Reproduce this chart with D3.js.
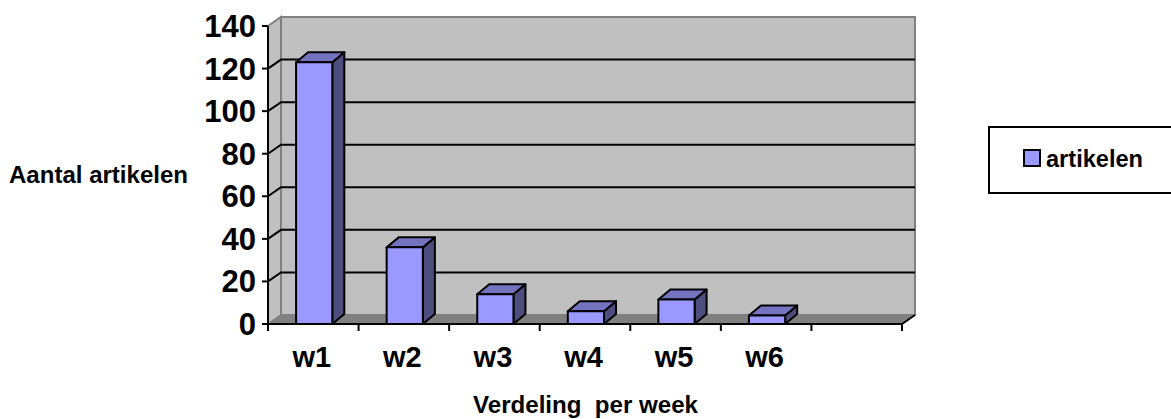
<!DOCTYPE html>
<html>
<head>
    <meta charset="utf-8">
    <script src="https://d3js.org/d3.v7.min.js"></script>
    <style>
        html, body { margin: 0; background: white; }
        svg { display: block; }
        text { font-family: "Liberation Sans", Arial, sans-serif; font-weight: bold; fill: black; }
    </style>
</head>
<body>
    <script>
        const weeks = ['w1', 'w2', 'w3', 'w4', 'w5', 'w6', ''];
        const artikelen = [123, 36, 14, 6, 11.5, 4, null];
        const yTicks = [0, 20, 40, 60, 80, 100, 120, 140];
        const seriesName = 'artikelen';
        const yTitle = 'Aantal artikelen';
        const xTitle = 'Verdeling  per week';

        const width = 1171, height = 419;
        const wallDx = 13, wallDy = -9;   // depth of the walls
        const barDx = 12, barDy = -10;    // depth of a bar

        const svg = d3.select('body').append('svg')
            .attr('width', width)
            .attr('height', height);

        const x = d3.scaleBand().domain(d3.range(weeks.length)).range([268, 902]);
        const y = d3.scaleLinear().domain([0, 140]).range([324, 26]);
        const barW = x.bandwidth() * 0.4;
        const barOff = x.bandwidth() * 0.31;

        const poly = pts => 'M' + pts.map(p => p.join(',')).join('L') + 'Z';
        const x0 = x.range()[0], x1 = x.range()[1];
        const y0 = y(0), yTop = y(140);

        // walls and floor
        svg.append('path')
            .attr('d', poly([[x0 + wallDx, yTop + wallDy], [x1 + wallDx, yTop + wallDy], [x1 + wallDx, y0 + wallDy], [x0 + wallDx, y0 + wallDy]]))
            .attr('fill', '#c0c0c0').attr('stroke', '#808080').attr('stroke-width', 2);
        svg.append('path')
            .attr('d', poly([[x0, yTop], [x0 + wallDx, yTop + wallDy], [x0 + wallDx, y0 + wallDy], [x0, y0]]))
            .attr('fill', '#c0c0c0').attr('stroke', '#808080').attr('stroke-width', 2);
        svg.append('path')
            .attr('d', poly([[x0, y0], [x0 + wallDx, y0 + wallDy], [x1 + wallDx, y0 + wallDy], [x1, y0]]))
            .attr('fill', '#808080').attr('stroke', '#808080').attr('stroke-width', 1);

        // gridlines
        svg.append('g').selectAll('path')
            .data(yTicks.filter(d => d > 0 && d < 140))
            .enter().append('path')
            .attr('d', d => `M${x0},${y(d)}L${x0 + wallDx},${y(d) + wallDy}L${x1 + wallDx},${y(d) + wallDy}`)
            .attr('fill', 'none').attr('stroke', 'black').attr('stroke-width', 2);

        // bars
        const bars = svg.append('g').selectAll('g')
            .data(artikelen.map((v, i) => ({ v, i })).filter(d => d.v !== null))
            .enter().append('g')
            .attr('stroke', 'black').attr('stroke-width', 2).attr('stroke-linejoin', 'round');

        bars.append('path').attr('fill', '#4d4d80').attr('d', d => {
            const r = x(d.i) + barOff + barW, t = y(d.v);
            return poly([[r, t], [r + barDx, t + barDy], [r + barDx, y0 + barDy], [r, y0]]);
        });
        bars.append('path').attr('fill', '#7373bf').attr('d', d => {
            const l = x(d.i) + barOff, t = y(d.v);
            return poly([[l, t], [l + barDx, t + barDy], [l + barW + barDx, t + barDy], [l + barW, t]]);
        });
        bars.append('rect')
            .attr('x', d => x(d.i) + barOff)
            .attr('y', d => y(d.v))
            .attr('width', barW)
            .attr('height', d => y0 - y(d.v))
            .attr('fill', '#9999ff');

        // axes
        svg.append('path')
            .attr('d', `M${x0},${yTop}L${x0},${y0}L${x1},${y0}L${x1 + wallDx},${y0 + wallDy}`)
            .attr('fill', 'none').attr('stroke', 'black').attr('stroke-width', 2);

        svg.append('g').selectAll('line')
            .data(yTicks)
            .enter().append('line')
            .attr('x1', x0 - 6).attr('x2', x0)
            .attr('y1', d => y(d)).attr('y2', d => y(d))
            .attr('stroke', 'black').attr('stroke-width', 2);

        svg.append('g').selectAll('line')
            .data(d3.range(weeks.length + 1))
            .enter().append('line')
            .attr('x1', i => x0 + i * x.bandwidth()).attr('x2', i => x0 + i * x.bandwidth())
            .attr('y1', y0).attr('y2', y0 + 7)
            .attr('stroke', 'black').attr('stroke-width', 2);

        svg.append('g').selectAll('text')
            .data(yTicks)
            .enter().append('text')
            .attr('x', x0 - 12)
            .attr('y', d => y(d) + 11)
            .attr('text-anchor', 'end')
            .attr('font-size', 31)
            .text(d => d);

        svg.append('g').selectAll('text')
            .data(weeks)
            .enter().append('text')
            .attr('x', (d, i) => x(i) + x.bandwidth() / 2 - 1.5)
            .attr('y', 367)
            .attr('text-anchor', 'middle')
            .attr('font-size', 29)
            .text(d => d);

        // the titles are stretched a bit wider than the font, as in the original
        svg.append('text').attr('x', 9).attr('y', 183).attr('font-size', 23)
            .attr('textLength', 179).attr('lengthAdjust', 'spacingAndGlyphs').text(yTitle);
        svg.append('text').attr('x', 473).attr('y', 413).attr('font-size', 23)
            .attr('textLength', 225).attr('lengthAdjust', 'spacingAndGlyphs')
            .style('white-space', 'pre').text(xTitle);

        // legend, runs off the right edge
        svg.append('rect').attr('x', 989).attr('y', 127).attr('width', 200).attr('height', 66)
            .attr('fill', 'white').attr('stroke', 'black').attr('stroke-width', 2);
        svg.append('rect').attr('x', 1024).attr('y', 150).attr('width', 16).attr('height', 16)
            .attr('fill', '#9999ff').attr('stroke', 'black').attr('stroke-width', 2);
        svg.append('text').attr('x', 1046).attr('y', 167).attr('font-size', 23)
            .attr('textLength', 97).attr('lengthAdjust', 'spacingAndGlyphs').text(seriesName);
    </script>
</body>
</html>
